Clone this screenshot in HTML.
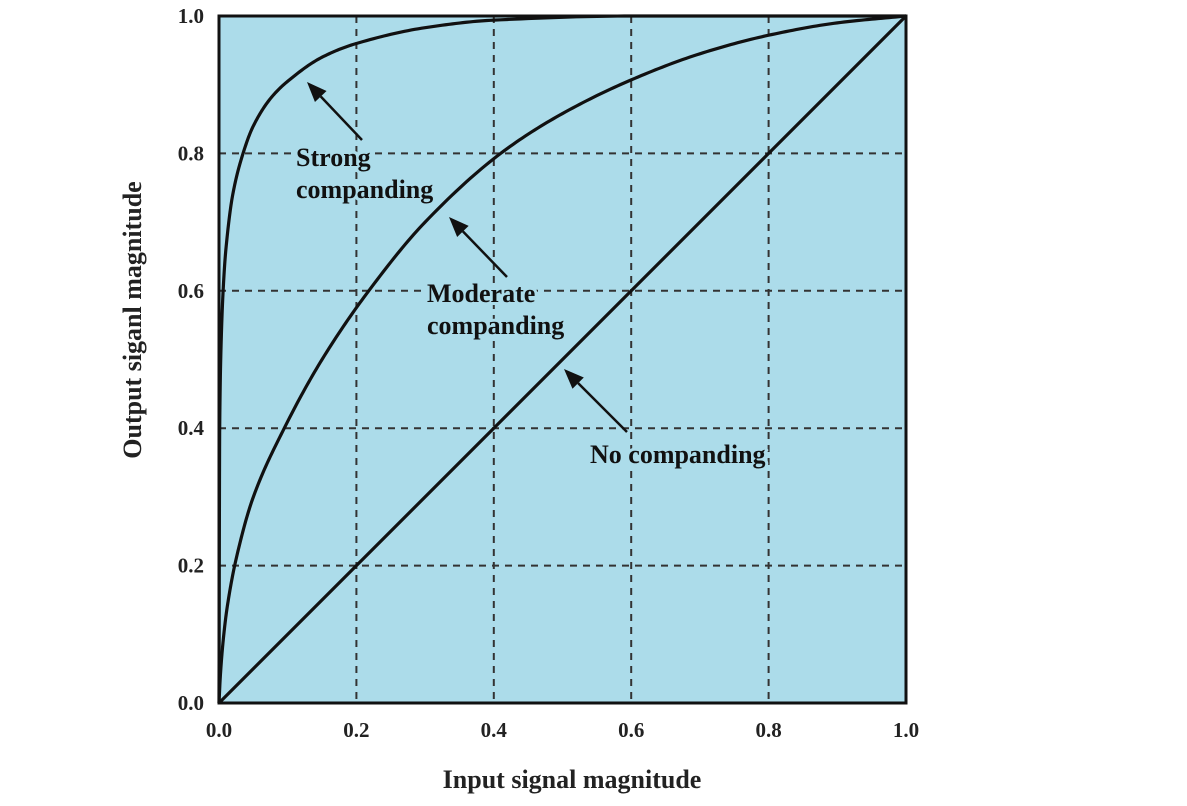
<!DOCTYPE html>
<html><head><meta charset="utf-8"><style>
html,body{margin:0;padding:0;background:#fff;}
svg{display:block;font-family:"Liberation Serif",serif;font-weight:bold;}
</style></head><body>
<svg id="chart" width="1187" height="806" viewBox="0 0 1187 806">
<g id="g"></g>
</svg>
<script>
const ticks=[0,0.2,0.4,0.6,0.8,1.0];
const tickLabels=["0.0","0.2","0.4","0.6","0.8","1.0"];
const strongX=[0,0.001,0.003,0.006,0.01,0.02,0.035,0.05,0.075,0.1,0.15,0.2,0.3,0.4,0.6,0.8,1.0];
const strongY=[0,0.4,0.52,0.6,0.66,0.74,0.8,0.84,0.88,0.905,0.94,0.96,0.983,0.994,1,1,1];
const modX=[0,0.002,0.006,0.012,0.025,0.05,0.095,0.15,0.218,0.3,0.41,0.5,0.6,0.7,0.8,0.9,1.0];
const modY=[0,0.04,0.09,0.14,0.21,0.3,0.4,0.5,0.6,0.7,0.8,0.858,0.907,0.945,0.972,0.99,1.0];
const noX=[0,1];
const noY=[0,1];
const L=219,R=906,T=16,B=703;
const sx=v=>L+v*(R-L), sy=v=>B-v*(B-T);
const NS="http://www.w3.org/2000/svg";
const g=document.getElementById('g');
function mk(t,a,txt){const e=document.createElementNS(NS,t);for(const k in a)e.setAttribute(k,a[k]);if(txt!=null)e.textContent=txt;g.appendChild(e);return e;}
let e=mk('rect',{x:L,y:T,width:R-L,height:B-T,fill:"#acdcea"});


ticks.forEach((t,i)=>{
 if(t>0&&t<1){
  let v=mk('line',{x1:sx(t),x2:sx(t),y1:T,y2:B,stroke:"#333","stroke-width":2,"stroke-dasharray":"7,6"});
  
  
  let h=mk('line',{x1:L,x2:R,y1:sy(t),y2:sy(t),stroke:"#333","stroke-width":2,"stroke-dasharray":"7,6"});
  
  
 }
 let xl=mk('text',{x:sx(t),y:B+34,"text-anchor":"middle","font-size":21,fill:"#222"},tickLabels[i]);
 
 
 let yl=mk('text',{x:L-15,y:sy(t)+7,"text-anchor":"end","font-size":21,fill:"#222"},tickLabels[i]);
 
 
});
function path(xs,ys){
 const n=xs.length;
 const X=xs.map(sx),Y=ys.map(sy);
 if(n===2)return `M${X[0]},${Y[0]} L${X[1]},${Y[1]}`;
 const d=[],m=[];
 for(let i=0;i<n-1;i++)d.push((ys[i+1]-ys[i])/(xs[i+1]-xs[i]));
 m[0]=d[0];m[n-1]=d[n-2];
 for(let i=1;i<n-1;i++){m[i]=(d[i-1]*d[i]<=0)?0:2/(1/d[i-1]+1/d[i]);}
 let s=`M${X[0]},${Y[0]}`;
 for(let i=0;i<n-1;i++){
  const h=xs[i+1]-xs[i];
  const steps=20;
  for(let k=1;k<=steps;k++){
   const t=k/steps,t2=t*t,t3=t2*t;
   const y=(2*t3-3*t2+1)*ys[i]+(t3-2*t2+t)*h*m[i]+(-2*t3+3*t2)*ys[i+1]+(t3-t2)*h*m[i+1];
   s+=` L${sx(xs[i]+t*h).toFixed(2)},${sy(y).toFixed(2)}`;
  }
 }
 return s;
}
[[strongX,strongY,'strong-companding-curve'],[modX,modY,'moderate-companding-curve'],[noX,noY,'no-companding-line']].forEach(s=>{
 let c=mk('path',{d:path(s[0],s[1]),fill:"none",stroke:"#111","stroke-width":3.2,"stroke-linejoin":"round"});
 
 
});
let fr=mk('rect',{x:L,y:T,width:R-L,height:B-T,fill:"none",stroke:"#111","stroke-width":3});


[[362,140,307,82,'strong-arrow'],[507,277,449,217,'moderate-arrow'],[627,432,564,369,'no-companding-arrow']].forEach(a=>{
 const ang=Math.atan2(a[1]-a[3],a[0]-a[2]);
 const len=20,w=8;
 const bx=a[2]+len*Math.cos(ang),by=a[3]+len*Math.sin(ang);
 let l=mk('line',{x1:a[0],y1:a[1],x2:bx,y2:by,stroke:"#111","stroke-width":2.5});
 
 
 const px=-Math.sin(ang)*w,py=Math.cos(ang)*w;
 let h=mk('polygon',{points:`${a[2]},${a[3]} ${bx+px},${by+py} ${bx-px},${by-py}`,fill:"#111"});
 
 
});
[[296,166,"Strong",'strong-label-1'],[296,198,"companding",'strong-label-2'],[427,302,"Moderate",'moderate-label-1'],[427,334,"companding",'moderate-label-2'],[590,463,"No companding",'no-companding-label']].forEach(t=>{
 let x=mk('text',{x:t[0],y:t[1],"font-size":26,fill:"#111",stroke:"#acdcea","stroke-width":6,"paint-order":"stroke"},t[2]);
 
 
});
let xt=mk('text',{x:572,y:788,"text-anchor":"middle","font-size":26,fill:"#222"},"Input signal magnitude");


let yt=mk('text',{x:0,y:0,"text-anchor":"middle","font-size":26,fill:"#222",transform:"translate(141,320) rotate(-90)"},"Output siganl magnitude");


</script>
</body></html>
